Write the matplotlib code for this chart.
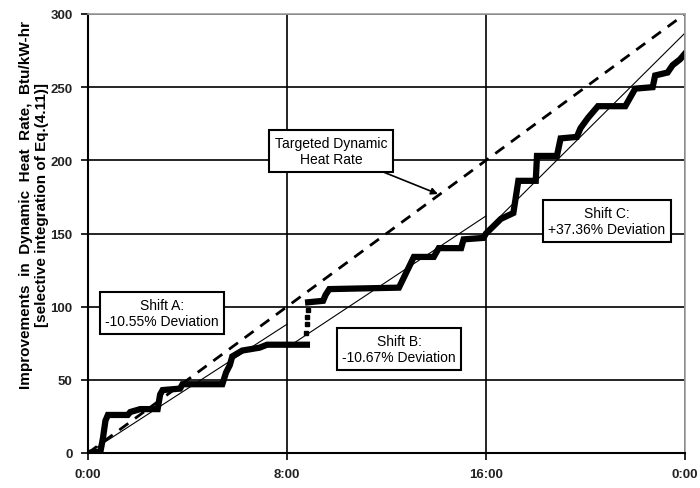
import matplotlib
matplotlib.use("Agg")
import matplotlib.pyplot as plt
import numpy as np

plt.rcParams['font.family'] = ['Liberation Sans', 'DejaVu Sans']

# Targeted dynamic heat rate (dashed)
target_t = [0, 24]
target_v = [0, 300]

# Shift trend lines (thin)
shiftA_t = [0, 8]
shiftA_v = [0, 88]
shiftB_t = [8, 16]
shiftB_v = [72, 162]
shiftC_t = [16, 24]
shiftC_v = [152, 287]

# Actual cumulative improvements (thick, stepped)
act1_t = [0, 0.5, 0.6, 0.7, 0.8, 1.6, 1.7, 2.1, 2.8, 2.9, 3.0, 3.7, 3.8, 5.4,
          5.55, 5.7, 5.8, 6.2, 6.9, 7.2, 8.8]
act1_v = [0, 1, 10, 22, 26, 26, 28, 30, 30, 40, 43, 44, 47, 47,
          55, 60, 66, 70, 72, 74, 74]
jump_t = [8.78, 8.8, 8.82, 8.84]
jump_v = [82, 88, 93, 98]
act2_t = [8.85, 9.45, 9.55, 9.7, 12.5, 12.7, 12.9, 13.1, 13.9, 14.1, 15.0, 15.1,
          15.9, 16.0, 16.3, 16.6, 17.1, 17.3, 18.0, 18.05, 18.85, 19.0, 19.65,
          19.8, 20.1, 20.5, 21.6, 21.8, 22.0, 22.7, 22.8, 23.3, 23.5, 23.8, 24.0]
act2_v = [103, 104, 108, 112, 113, 120, 127, 134, 134, 140, 140, 146,
          147, 150, 155, 160, 164, 186, 186, 203, 203, 215, 216,
          222, 229, 237, 237, 243, 249, 250, 258, 260, 265, 269, 273]

xticks = [0, 8, 16, 24]
xticklabels = ['0:00', '8:00', '16:00', '0:00']
yticks = [0, 50, 100, 150, 200, 250, 300]

fig = plt.figure(figsize=(7, 4.89), dpi=100)
ax = fig.add_axes([88/700, 1-454/489, (685-88)/700, (454-15)/489])

ax.plot(target_t, target_v, color='black', lw=2, dashes=(4, 3))
for t, v in [(shiftA_t, shiftA_v), (shiftB_t, shiftB_v), (shiftC_t, shiftC_v)]:
    ax.plot(t, v, color='black', lw=0.8)
ax.plot(act1_t, act1_v, color='black', lw=4.5, solid_joinstyle='miter')
ax.plot(jump_t, jump_v, 'ks', ms=2.2)
ax.plot(act2_t, act2_v, color='black', lw=4.5, solid_joinstyle='miter')

ax.set_xlim(0, 24)
ax.set_ylim(0, 300)
ax.set_xticks(xticks)
ax.set_xticklabels(xticklabels)
ax.set_yticks(yticks)
ax.grid(True, color='black', lw=1.2)
ax.set_axisbelow(True)
for s in ['top', 'right']:
    ax.spines[s].set_color('#a0a0a0')
    ax.spines[s].set_linewidth(1.2)
for s in ['left', 'bottom']:
    ax.spines[s].set_color('black')
    ax.spines[s].set_linewidth(1.5)
ax.tick_params(axis='both', direction='out', length=5, width=1.2, colors='black',
               labelsize=9.5, labelcolor='#222222', pad=6)
for lab in ax.get_xticklabels() + ax.get_yticklabels():
    lab.set_fontweight('bold')

ax.set_ylabel('Improvements  in  Dynamic  Heat  Rate,  Btu/kW-hr\n[selective integration of Eq.(4.11)]',
              fontsize=11, fontweight='bold', linespacing=1.15)
ax.yaxis.set_label_coords((49 - 88) / 597, (454 - 205) / 439)

bbox = dict(boxstyle='square,pad=0.4', fc='white', ec='black', lw=1.5)

def px2data(x, y):
    return ((x - 88) / (685 - 88) * 24, (454 - y) / (454 - 15) * 300)

fs = 10
ax.annotate('Targeted Dynamic\nHeat Rate', xy=px2data(438, 195), xytext=px2data(331, 152),
            ha='center', va='center', fontsize=fs, bbox=bbox,
            arrowprops=dict(arrowstyle='-|>', color='black', lw=1.2,
                            shrinkA=0, shrinkB=0, mutation_scale=10))
ax.text(*px2data(162, 314), 'Shift A:\n-10.55% Deviation', ha='center', va='center',
        fontsize=fs, bbox=bbox)
ax.text(*px2data(399, 350), 'Shift B:\n-10.67% Deviation', ha='center', va='center',
        fontsize=fs, bbox=bbox)
ax.text(*px2data(607, 222), 'Shift C:\n+37.36% Deviation', ha='center', va='center',
        fontsize=fs, bbox=bbox)

fig.savefig('out.png', dpi=100)
